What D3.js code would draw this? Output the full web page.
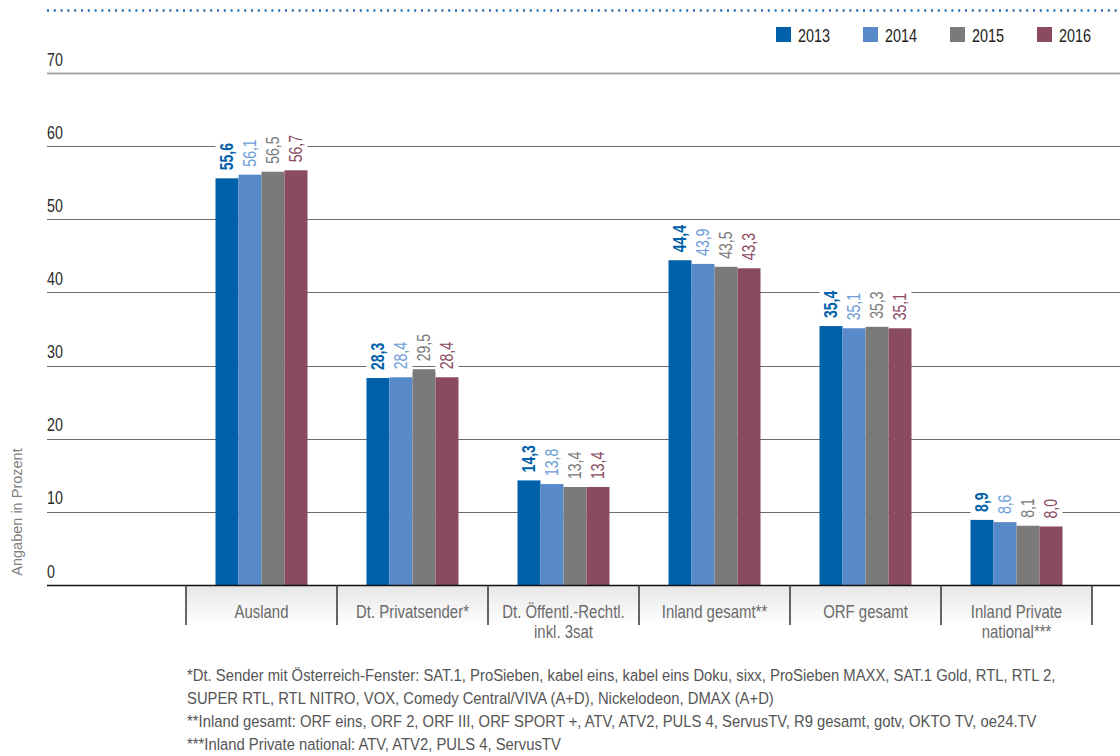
<!DOCTYPE html>
<html>
<head>
<meta charset="utf-8">
<script src="https://cdn.jsdelivr.net/npm/d3@7"></script>
<style>
  html, body { margin: 0; padding: 0; background: #fff; }
  svg { display: block; font-family: "Liberation Sans", Arial, sans-serif; }
</style>
</head>
<body>
<svg id="chart" width="1120" height="756"></svg>
<script>
const categories = [
  ["Ausland"],
  ["Dt. Privatsender*"],
  ["Dt. Öffentl.-Rechtl.", "inkl. 3sat"],
  ["Inland gesamt**"],
  ["ORF gesamt"],
  ["Inland Private", "national***"]
];
const years = ["2013", "2014", "2015", "2016"];
const values2013 = [55.6, 28.3, 14.3, 44.4, 35.4, 8.9];
const values2014 = [56.1, 28.4, 13.8, 43.9, 35.1, 8.6];
const values2015 = [56.5, 29.5, 13.4, 43.5, 35.3, 8.1];
const values2016 = [56.7, 28.4, 13.4, 43.3, 35.1, 8.0];
const yTicks = [0, 10, 20, 30, 40, 50, 60, 70];
const yTitle = "Angaben in Prozent";
const footnotes = [
  "*Dt. Sender mit Österreich-Fenster: SAT.1, ProSieben, kabel eins, kabel eins Doku, sixx, ProSieben MAXX, SAT.1 Gold, RTL, RTL 2,",
  "SUPER RTL, RTL NITRO, VOX, Comedy Central/VIVA (A+D), Nickelodeon, DMAX (A+D)",
  "**Inland gesamt: ORF eins, ORF 2, ORF III, ORF SPORT +, ATV, ATV2, PULS 4, ServusTV, R9 gesamt, gotv, OKTO TV, oe24.TV",
  "***Inland Private national: ATV, ATV2, PULS 4, ServusTV"
];

const series = [values2013, values2014, values2015, values2016];
const barColors = ["#0061aa", "#5889c8", "#7a7a7a", "#8a4a60"];
const labelColors = ["#0061aa", "#6d9dd8", "#7a7a7a", "#8a4a60"];

const svg = d3.select("#chart");
const catKeys = categories.map(c => c.join(" "));

const y = d3.scaleLinear().domain([0, 70]).range([585, 73]);
const x = d3.scaleBand().domain(catKeys).range([186, 1092]).paddingInner(0).paddingOuter(0);
const xs = d3.scaleBand().domain(years).range([29.5, 29.5 + 92]);

function ctext(parent, px, py, sx, extra) {
  return parent.append("text")
    .attr("transform", `translate(${px},${py})${extra || ""} scale(${sx},1)`);
}

// top dotted rule
svg.append("line").attr("x1", 47).attr("x2", 1120).attr("y1", 10.5).attr("y2", 10.5)
  .attr("stroke", "#1f6fb6").attr("stroke-width", 2.5).attr("stroke-dasharray", "2,4.8");

// gridlines
const grid = svg.append("g");
grid.selectAll("line").data(yTicks.filter(t => t > 0)).join("line")
  .attr("x1", 47).attr("x2", 1120)
  .attr("y1", d => Math.round(y(d)) + 0.5).attr("y2", d => Math.round(y(d)) + 0.5)
  .attr("stroke", d => d === 70 ? "#a8a8a8" : "#6a6a6a")
  .attr("stroke-width", d => d === 70 ? 2 : 1.2);

// tick labels
const tickG = svg.append("g");
yTicks.forEach(t => {
  ctext(tickG, 47, y(t) - 7.5, 0.77)
    .attr("font-size", 18.5).attr("fill", "#2a2a2a").text(t);
});

// y title
svg.append("text")
  .attr("transform", "translate(22,512) rotate(-90)")
  .attr("text-anchor", "middle")
  .attr("font-size", 14.5).attr("fill", "#808080")
  .text(yTitle);

// category band gradient
const defs = svg.append("defs");
const grad = defs.append("linearGradient").attr("id", "bandGrad").attr("x1", 0).attr("x2", 0).attr("y1", 0).attr("y2", 1);
grad.append("stop").attr("offset", "0%").attr("stop-color", "#e6e6e6");
grad.append("stop").attr("offset", "100%").attr("stop-color", "#ffffff");
svg.append("rect").attr("x", 186).attr("y", 585).attr("width", 1092 - 186).attr("height", 40)
  .attr("fill", "url(#bandGrad)");

// bars
const groups = svg.append("g").selectAll("g").data(catKeys).join("g")
  .attr("transform", d => `translate(${x(d)},0)`);

groups.each(function(cat, ci) {
  const g = d3.select(this);
  years.forEach((yr, si) => {
    const v = series[si][ci];
    g.append("rect")
      .attr("x", xs(yr)).attr("width", xs.bandwidth())
      .attr("y", y(v)).attr("height", y(0) - y(v))
      .attr("fill", barColors[si]);
  });
});

// value labels with white background
const LSX = 0.78;
groups.each(function(cat, ci) {
  const g = d3.select(this);
  years.forEach((yr, si) => {
    const v = series[si][ci];
    const cx = xs(yr) + xs.bandwidth() / 2;
    const top = y(v) - 8;
    const bg = g.append("rect").attr("fill", "#fff");
    const t = ctext(g, cx, top, LSX, " rotate(-90)")
      .attr("dy", "0.36em")
      .attr("font-size", 18)
      .attr("font-weight", si === 0 ? "bold" : "normal")
      .attr("fill", labelColors[si])
      .text(d3.format(".1f")(v).replace(".", ","));
    const len = t.node().getComputedTextLength() * LSX;
    bg.attr("x", xs(yr)).attr("width", xs.bandwidth())
      .attr("y", top - len - 3).attr("height", len + 6);
  });
});

// baseline
svg.append("line").attr("x1", 47).attr("x2", 1120).attr("y1", 585.5).attr("y2", 585.5)
  .attr("stroke", "#111").attr("stroke-width", 1.5);

// separators
const seps = catKeys.map(c => x(c)).concat([x.range()[1]]);
svg.append("g").selectAll("line").data(seps).join("line")
  .attr("x1", d => d).attr("x2", d => d).attr("y1", 585).attr("y2", 625)
  .attr("stroke", "#333").attr("stroke-width", 1.5);

// category labels
const catG = svg.append("g");
categories.forEach((lines, i) => {
  const t = ctext(catG, x(catKeys[i]) + x.bandwidth() / 2, 618, 0.83)
    .attr("text-anchor", "middle")
    .attr("font-size", 18).attr("fill", "#6a6a6a");
  lines.forEach((ln, k) => {
    t.append("tspan").attr("x", 0).attr("dy", k === 0 ? 0 : 20).text(ln);
  });
});

// legend
const legend = svg.append("g").selectAll("g").data(years).join("g")
  .attr("transform", (d, i) => `translate(${776 + i * 87},27)`);
legend.append("rect").attr("width", 15).attr("height", 15).attr("fill", (d, i) => barColors[i]);
legend.each(function(d) {
  ctext(d3.select(this), 22, 14.5, 0.76).attr("font-size", 19).attr("fill", "#222").text(d);
});

// footnotes
const fnG = svg.append("g");
footnotes.forEach((f, i) => {
  ctext(fnG, 187, 681 + i * 23, 0.873).attr("font-size", 17).attr("fill", "#555").text(f);
});
</script>
</body>
</html>
